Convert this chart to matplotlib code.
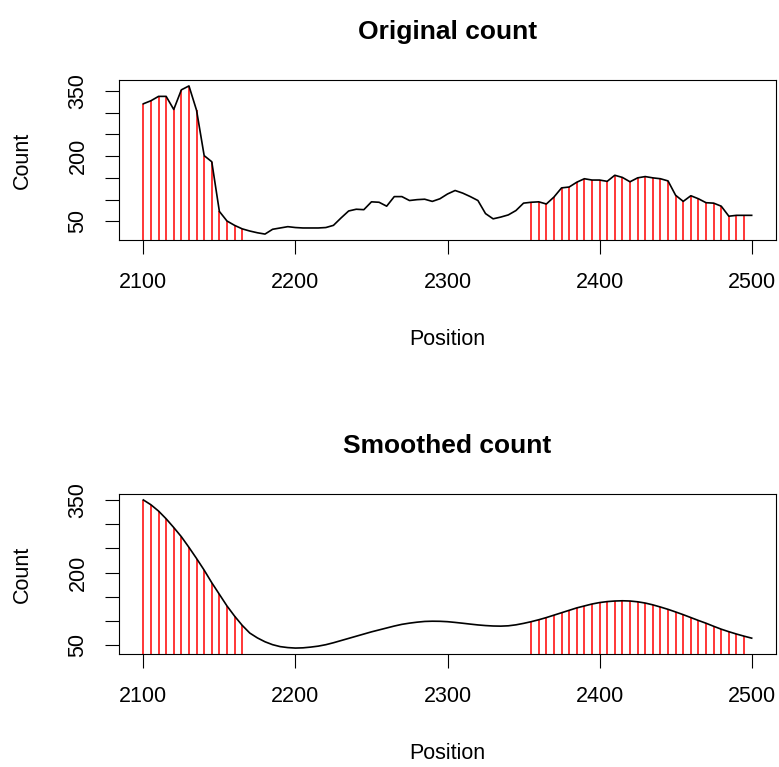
import numpy as np
import matplotlib
matplotlib.use("Agg")
from matplotlib import pyplot as plt

plt.rcParams['font.family'] = ['Liberation Sans', 'DejaVu Sans']

# positions, one every 5 bases
position = list(range(2100, 2501, 5))

original_count = [
    320, 327, 337, 337, 307, 352, 361, 305, 201, 187,
    73, 51, 41, 33, 28, 24, 21, 32, 35, 38,
    36, 35, 35, 35, 36, 41, 58, 74, 78, 77,
    95, 94, 85, 107, 107, 98, 100, 101, 96, 102,
    113, 121, 115, 107, 98, 68, 56, 60, 65, 75,
    92, 94, 95, 90, 106, 127, 129, 140, 148, 145,
    145, 142, 156, 151, 141, 150, 153, 150, 148, 143,
    110, 96, 109, 102, 93, 92, 85, 62, 64, 64,
    64,
]

smoothed_count = [
    350, 340, 327, 311, 293, 274, 252, 229, 205, 179,
    155, 131, 110, 91, 75, 65, 57, 51, 47, 45,
    44, 44.5, 46, 48, 51, 55, 59.5, 64, 68.5, 73,
    77.5, 81.5, 85.5, 89.5, 93, 95.5, 97.5, 99, 99.5, 99.3,
    98.5, 97, 95.3, 93.5, 91.8, 90.5, 89.6, 89.3, 90, 92,
    95, 98.5, 102.5, 107, 112, 117, 122, 127, 131, 135,
    138, 140, 141.2, 141.7, 141.2, 139.6, 137, 133.3, 128.8, 124,
    118.6, 113, 107, 101, 95.3, 89, 83, 77.8, 73, 68.6,
    64.5,
]

# highlighted regions (inclusive)
regions = [(2100, 2165), (2355, 2495)]

y_ticks = [50, 100, 150, 200, 250, 300, 350]
y_labels = ['50', '', '', '200', '', '', '350']
x_ticks = [2100, 2200, 2300, 2400, 2500]

W, H = 779, 767
fig = plt.figure(figsize=(W / 100, H / 100), dpi=100)

def px(x0, y0, x1, y1):
    return [x0 / W, 1 - y1 / H, (x1 - x0) / W, (y1 - y0) / H]

panels = [
    ("Original count", original_count, px(119, 80, 776, 240), 0),
    ("Smoothed count", smoothed_count, px(119, 494, 776, 654), 414),
]

pos = np.array(position)
for title, counts, rect, off in panels:
    counts = np.array(counts, dtype=float)
    ax = fig.add_axes(rect)
    rng = pos.max() - pos.min()
    ax.set_xlim(pos.min() - 0.04 * rng, pos.max() + 0.04 * rng)
    yr = counts.max() - counts.min()
    ax.set_ylim(counts.min() - 0.04 * yr, counts.max() + 0.04 * yr)

    mask = np.zeros(len(pos), dtype=bool)
    for lo, hi in regions:
        mask |= (pos >= lo) & (pos <= hi)
    ax.vlines(pos[mask], 0, counts[mask], colors='red', linewidth=1.1, zorder=2)
    ax.plot(pos, counts, color='black', linewidth=1.2, zorder=3)

    ax.set_xticks(x_ticks)
    ax.set_xticklabels([str(t) for t in x_ticks])
    ax.set_yticks(y_ticks)
    ax.set_yticklabels(y_labels, rotation=90, va='center')
    ax.tick_params(axis='both', direction='out', length=10, width=0.8,
                   labelsize=15.5, color='black')
    ax.tick_params(axis='x', pad=13)
    ax.tick_params(axis='y', pad=12)
    for s in ax.spines.values():
        s.set_linewidth(0.8)

    fig.text(447.5 / W, 1 - (39 + off) / H, title, ha='center', va='baseline',
             fontsize=19, fontweight='bold')
    fig.text(447.5 / W, 1 - (345 + off) / H, "Position", ha='center',
             va='baseline', fontsize=15.5)
    fig.text(22 / W, 1 - (160 + off) / H, "Count", ha='center', va='center',
             rotation=90, fontsize=15.5)

fig.savefig("out.png", dpi=100)
